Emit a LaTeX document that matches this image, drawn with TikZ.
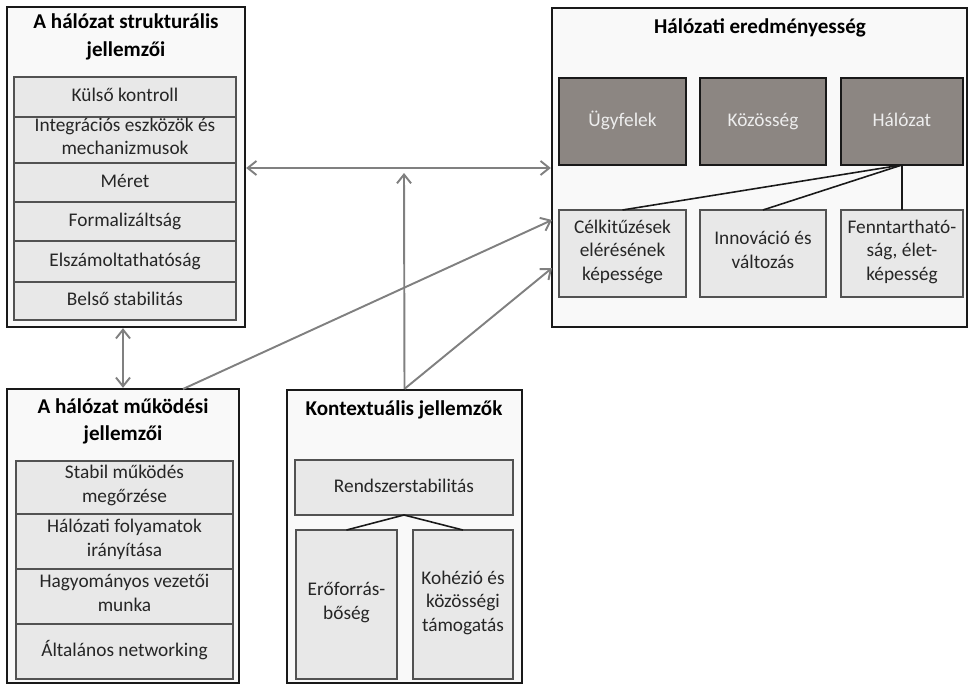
\documentclass[tikz,border=0pt]{standalone}
\usepackage{fontspec}
\setmainfont{Carlito}
\usepackage{tikz}
\usetikzlibrary{arrows.meta,positioning,calc,fit}
\definecolor{boxEdge}  {gray}{0.10}
\definecolor{boxBack}  {gray}{0.975}
\definecolor{cellFill} {gray}{0.91}
\definecolor{cellEdge} {gray}{0.32}
\definecolor{cellText} {gray}{0.15}
\definecolor{darkFill} {RGB}{140,134,130}
\definecolor{darkText} {gray}{0.93}
\definecolor{linkGray} {gray}{0.50}

\begin{document}
\begin{tikzpicture}[x=0.02cm, y=-0.02cm,
      group/.style={draw=boxEdge, line width=1.3pt, fill=boxBack, inner sep=0pt},
      grouptitle/.style={align=center, font=\fontsize{12}{15.5}\selectfont\bfseries},
      cell/.style={draw=cellEdge, line width=0.9pt, fill=cellFill, inner sep=0pt, outer sep=0pt,
                   align=center, text=cellText, font=\fontsize{11}{13.4}\selectfont,
                   execute at begin node=\strut, execute at end node=\strut},
      scell/.style={cell, minimum width=4.44cm},
      ocell/.style={cell, minimum width=4.34cm},
      rcell/.style={cell, minimum height=1.74cm},
      darkcell/.style={rcell, draw=boxEdge, fill=darkFill, text=darkText},
      tie/.style={draw=boxEdge, line width=0.9pt},
      link/.style={draw=linkGray, line width=1.1pt, -{Straight Barb[length=5pt, width=8pt]}},
      both/.style={link, {Straight Barb[length=5pt, width=8pt]}-{Straight Barb[length=5pt, width=8pt]}}]

    \useasboundingbox (0,0) rectangle (970,686);

    % strukturális jellemzők
    \node[group, fit={(7,7) (245,327)}] (S) {};
    \node[grouptitle] (St) at (126,37) {A hálózat strukturális\\jellemzői};
    \node[scell, minimum height=0.80cm] (S1) at (125,97) {Külső kontroll};
    \node[scell, minimum height=0.92cm, below=0pt of S1] (S2) {Integrációs eszközök és\\mechanizmusok};
    \node[scell, minimum height=0.78cm, below=0pt of S2] (S3) {Méret};
    \node[scell, minimum height=0.78cm, below=0pt of S3] (S4) {Formalizáltság};
    \node[scell, minimum height=0.82cm, below=0pt of S4] (S5) {Elszámoltathatóság};
    \node[scell, minimum height=0.76cm, below=0pt of S5] (S6) {Belső stabilitás};

    % eredményesség
    \node[group, fit={(552,8) (967,327)}] (R) {};
    \node[grouptitle] (Rt) at (760,28) {Hálózati eredményesség};
    \node[darkcell, minimum width=2.54cm] (R1) at (622.5,121.5) {Ügyfelek};
    \node[darkcell, minimum width=2.52cm, right=0.28cm of R1] (R2) {Közösség};
    \node[darkcell, minimum width=2.44cm, right=0.30cm of R2] (R3) {Hálózat};
    \node[rcell, minimum width=2.54cm, below=0.90cm of R1] (L1) {Célkitűzések\\elérésének\\képessége};
    \node[rcell, minimum width=2.52cm, below=0.90cm of R2] (L2) {Innováció és\\változás};
    \node[rcell, minimum width=2.44cm, below=0.90cm of R3] (L3) {Fenntartható-\\ság, élet-\\képesség};
    \draw[tie] (R3.south) -- (L1.north);
    \draw[tie] (R3.south) -- (L2.north);
    \draw[tie] (R3.south) -- (L3.north);

    % működési jellemzők
    \node[group, fit={(7,389) (239,683)}] (O) {};
    \node[grouptitle] (Ot) at (123,421) {A hálózat működési\\jellemzői};
    \node[ocell, minimum height=1.06cm] (O1) at (124.5,487.5) {Stabil működés\\megőrzése};
    \node[ocell, minimum height=1.10cm, below=0pt of O1] (O2) {Hálózati folyamatok\\irányítása};
    \node[ocell, minimum height=1.10cm, below=0pt of O2] (O3) {Hagyományos vezetői\\munka};
    \node[ocell, minimum height=1.10cm, below=0pt of O3] (O4) {Általános networking};

    % kontextuális jellemzők
    \node[group, fit={(287,390) (522,683)}] (K) {};
    \node[grouptitle] (Kt) at (404,410) {Kontextuális jellemzők};
    \node[cell, minimum width=4.36cm, minimum height=1.10cm] (K1) at (404,487.5) {Rendszerstabilitás};
    \node[cell, minimum width=2.02cm, minimum height=2.98cm] (K2) at (346.5,604.5) {Erőforrás-\\bőség};
    \node[cell, minimum width=2.00cm, minimum height=2.98cm] (K3) at (463,604.5) {Kohézió és\\közösségi\\támogatás};
    \draw[tie] (K1.south) -- (K2.north);
    \draw[tie] (K1.south) -- (K3.north);

    % kapcsolatok
    \coordinate (midline) at (400,168);
    \coordinate (uptip)   at (404,173);
    \coordinate (oStart)  at (183,389);
    \coordinate (rUpper)  at (552,220);
    \coordinate (rLower)  at (552,268);
    \draw[both] (S.east |- midline) -- (R.west |- midline);
    \draw[link] (K.north) -- (uptip);
    \draw[link] (oStart) -- (rUpper);
    \draw[link] (K.north) -- (rLower);
    \draw[both] (S.south -| O.north) -- (O.north);
  \end{tikzpicture}
\end{document}
